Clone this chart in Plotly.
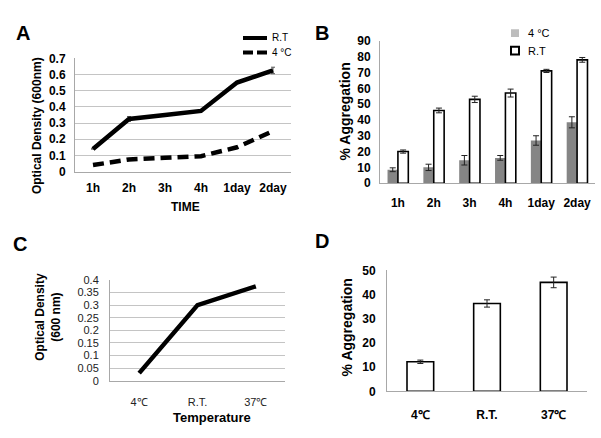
import plotly.graph_objects as go

W, H = 601, 438

# panel A: optical density over time
time_labels = ["1h", "2h", "3h", "4h", "1day", "2day"]
od_rt = [0.14, 0.325, 0.35, 0.375, 0.55, 0.625]
od_rt_err = [0.0, 0.015, 0.0, 0.0, 0.0, 0.02]
od_4c = [0.04, 0.075, 0.085, 0.095, 0.15, 0.25]

# panel B: aggregation over time
agg_4c = [8.5, 10, 14.5, 16, 27, 38.5]
agg_4c_err = [1.2, 2, 3, 1.5, 3, 3.5]
agg_rt = [20, 46, 53, 57, 71, 78]
agg_rt_err = [1, 1.5, 2, 2.5, 1, 1.5]

# panel C / D: temperature
temp_labels = ["4℃", "R.T.", "37℃"]
od_temp = [0.03, 0.3, 0.375]
agg_temp = [12.2, 36.3, 45]
agg_temp_err = [0.7, 1.5, 2.2]

FONT = "Liberation Sans, Arial, sans-serif"
GRID = "#c4c4c4"
AXIS = "#a8a8a8"
GRAY_BAR = "#858585"


def px(x):
    return x / W


def py(y):
    return 1 - y / H


fig = go.Figure()

# A
fig.add_trace(go.Scatter(
    x=time_labels, y=od_rt, name="R.T", mode="lines",
    line=dict(color="black", width=4.5),
    error_y=dict(type="data", array=od_rt_err, color="#555", thickness=1, width=2),
    xaxis="x", yaxis="y", showlegend=False,
))
fig.add_trace(go.Scatter(
    x=time_labels, y=od_4c, name="4 °C", mode="lines",
    line=dict(color="black", width=4.5, dash="11px,6px"),
    xaxis="x", yaxis="y", showlegend=False,
))

# B
fig.add_trace(go.Bar(
    x=time_labels, y=agg_4c, name="4 °C",
    marker=dict(color=GRAY_BAR, line=dict(width=0)),
    width=0.29, offset=-0.29,
    error_y=dict(type="data", array=agg_4c_err, color="#222", thickness=1, width=3),
    xaxis="x2", yaxis="y2", showlegend=False,
))
fig.add_trace(go.Bar(
    x=time_labels, y=agg_rt, name="R.T",
    marker=dict(color="white", line=dict(color="black", width=1.6)),
    width=0.29, offset=0.0,
    error_y=dict(type="data", array=agg_rt_err, color="#222", thickness=1, width=3),
    xaxis="x2", yaxis="y2", showlegend=False,
))

# C
fig.add_trace(go.Scatter(
    x=temp_labels, y=od_temp, mode="lines", showlegend=False,
    line=dict(color="black", width=4.5),
    xaxis="x3", yaxis="y3",
))

# D
fig.add_trace(go.Bar(
    x=temp_labels, y=agg_temp, showlegend=False,
    marker=dict(color="white", line=dict(color="black", width=1.6)),
    width=0.4,
    error_y=dict(type="data", array=agg_temp_err, color="#222", thickness=1, width=3),
    xaxis="x4", yaxis="y4",
))

bold12 = dict(family=FONT, size=12, color="black", weight="bold")
reg11 = dict(family=FONT, size=11, color="#222")

fig.update_layout(
    width=W, height=H,
    margin=dict(l=0, r=0, t=0, b=0),
    paper_bgcolor="white", plot_bgcolor="white",
    font=dict(family=FONT, color="black"),
    barmode="overlay",
    xaxis=dict(domain=[px(75), px(291)], anchor="y", type="category",
               range=[-0.5, 5.5], showline=True, linecolor=AXIS, linewidth=1,
               ticks="", tickfont=bold12, ticklabelstandoff=5, showgrid=False),
    yaxis=dict(domain=[py(170), py(53)], anchor="x", range=[0, 0.7],
               dtick=0.1, tickformat="~g", showgrid=True, gridcolor=GRID,
               showline=True, linecolor=AXIS, zeroline=False,
               tickfont=bold12, ticks="", ticklabelstandoff=6),
    xaxis2=dict(domain=[px(380), px(595)], anchor="y2", type="category",
                range=[-0.5, 5.5], showline=True, linecolor=AXIS,
                ticks="", tickfont=bold12, ticklabelstandoff=8, showgrid=False),
    yaxis2=dict(domain=[py(182), py(35)], anchor="x2", range=[0, 90],
                dtick=10, showgrid=False, showline=True, linecolor=AXIS,
                zeroline=False, tickfont=bold12, ticks="", ticklabelstandoff=6),
    xaxis3=dict(domain=[px(110), px(285)], anchor="y3", type="category",
                range=[-0.5, 2.5], showline=True, linecolor=AXIS,
                ticks="", tickfont=reg11, ticklabelstandoff=11, showgrid=False),
    yaxis3=dict(domain=[py(386), py(282)], anchor="x3", range=[0, 0.4],
                dtick=0.05, tickformat="~g", showgrid=True, gridcolor=GRID,
                showline=True, linecolor=AXIS, zeroline=False,
                tickfont=reg11, ticks="", ticklabelstandoff=8),
    xaxis4=dict(domain=[px(387), px(587)], anchor="y4", type="category",
                range=[-0.5, 2.5], showline=True, linecolor=AXIS,
                ticks="", tickfont=bold12, ticklabelstandoff=12, showgrid=False),
    yaxis4=dict(domain=[py(397), py(272)], anchor="x4", range=[0, 50],
                dtick=10, showgrid=False, showline=True, linecolor=AXIS,
                zeroline=False, tickfont=bold12, ticks="", ticklabelstandoff=8),
)

# hand-drawn legends (keys placed like the original figure)
shapes = [
    dict(type="line", x0=px(243), x1=px(267), y0=py(32), y1=py(32),
         line=dict(color="black", width=4)),
    dict(type="line", x0=px(243), x1=px(267), y0=py(47), y1=py(47),
         line=dict(color="black", width=4, dash="10px,4px")),
    dict(type="rect", x0=px(511), x1=px(519), y0=py(31), y1=py(23),
         fillcolor="#bdbdbd", line=dict(width=0)),
    dict(type="rect", x0=px(511), x1=px(519), y0=py(49), y1=py(41),
         fillcolor="white", line=dict(color="black", width=2)),
]
for s in shapes:
    s.update(xref="paper", yref="paper")

annotations = [
    dict(text="A", x=px(23), y=py(27), font=dict(family=FONT, size=20, weight="bold")),
    dict(text="B", x=px(322), y=py(27), font=dict(family=FONT, size=20, weight="bold")),
    dict(text="C", x=px(20), y=py(245), font=dict(family=FONT, size=20, weight="bold")),
    dict(text="D", x=px(322), y=py(242), font=dict(family=FONT, size=20, weight="bold")),
    dict(text="Optical Density (600nm)", x=px(37), y=py(123), textangle=-90,
         font=dict(family=FONT, size=12, weight="bold")),
    dict(text="TIME", x=px(185), y=py(207), font=dict(family=FONT, size=12, weight="bold")),
    dict(text="% Aggregation", x=px(345), y=py(108), textangle=-90,
         font=dict(family=FONT, size=14, weight="bold")),
    dict(text="Optical Density<br>(600 nm)", x=px(48), y=py(320), textangle=-90,
         font=dict(family=FONT, size=12, weight="bold")),
    dict(text="Temperature", x=px(212), y=py(424), font=dict(family=FONT, size=13, weight="bold")),
    dict(text="% Aggregation", x=px(347), y=py(331), textangle=-90,
         font=dict(family=FONT, size=14, weight="bold")),
    dict(text="R.T", x=px(270), y=py(32), xanchor="left", font=dict(family=FONT, size=10)),
    dict(text="4 °C", x=px(270), y=py(47), xanchor="left", font=dict(family=FONT, size=10)),
    dict(text="4 °C", x=px(526), y=py(27), xanchor="left", font=dict(family=FONT, size=11)),
    dict(text="R.T", x=px(526), y=py(45), xanchor="left", font=dict(family=FONT, size=11)),
]
for a in annotations:
    a.setdefault("xanchor", "center")
    a.update(xref="paper", yref="paper", showarrow=False, yanchor="middle")
fig.update_layout(annotations=annotations, shapes=shapes)

fig.write_html("out.html", config={"displayModeBar": False},
               post_script="document.body.style.margin='0';")
